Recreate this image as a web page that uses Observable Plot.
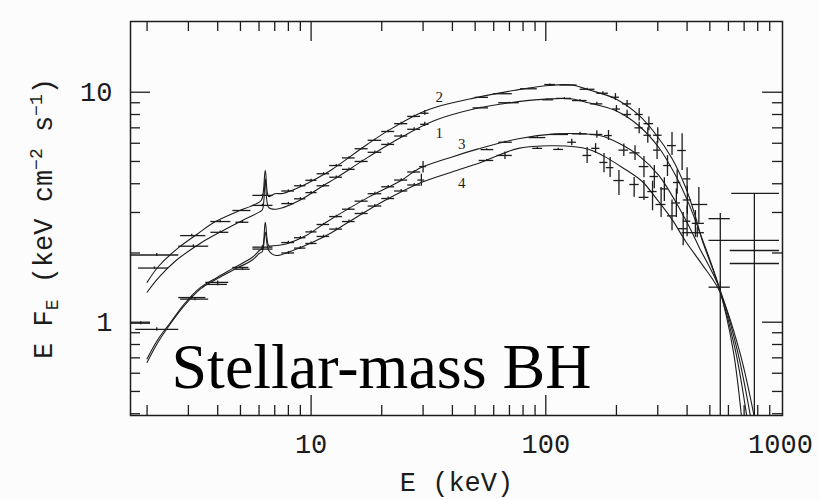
<!DOCTYPE html>
<html><head><meta charset="utf-8">
<script src="https://cdn.jsdelivr.net/npm/d3@7"></script>
<script src="https://cdn.jsdelivr.net/npm/@observablehq/plot@0.6"></script>
<style>body{margin:0;background:#fcfcfc}#chart{width:819px;height:500px}</style>
</head><body><div id="chart"></div>
<script>
// ---- model curves (E in keV, E*F_E) ----
const c1E = [2.0,2.25,2.65,3.34,4.2,5.27,6.01,6.2,6.38,6.6,7.1,7.6,8.91,11.6,12.6,17.5,24.2,33.6,49.9,76.4,103,129,152,198,249,303,357,407,450,547,629,689];
const c1V = [1.35,1.57,1.85,2.19,2.5,2.82,3.01,3.08,4.2,3.15,3.1,3.15,3.38,4.0,4.2,5.22,6.37,7.53,8.47,9.1,9.36,9.35,9.0,8.32,7.15,5.75,4.35,3.27,2.5,1.42,0.753,0.35];
const c2E = [2.0,2.25,2.74,3.28,3.86,4.78,5.82,6.15,6.38,6.6,7.0,7.57,8.91,11.6,12.6,17.5,21.3,28.6,35.9,49.9,74,103,129,152,198,249,293,345,394,435,464,547,643,730];
const c2V = [1.49,1.76,2.12,2.42,2.72,3.01,3.27,3.4,4.57,3.52,3.62,3.63,3.86,4.45,4.7,5.97,6.81,8.05,8.75,9.45,10.2,10.7,10.75,10.25,9.36,7.95,6.6,5.15,3.86,2.86,2.27,1.42,0.753,0.35];
const c3E = [2.0,2.21,2.52,2.88,3.39,3.99,4.62,5.64,6.01,6.2,6.38,6.6,6.85,7.82,9.52,11.6,17.5,24.2,28.6,39.6,51.5,76.4,110,143,173,205,249,303,357,407,450,547,655,759];
const c3V = [0.693,0.833,1.0,1.2,1.42,1.57,1.71,1.92,2.05,2.1,2.72,2.15,2.15,2.19,2.38,2.72,3.49,4.13,4.64,5.22,5.67,6.28,6.59,6.59,6.45,6.0,5.3,4.35,3.35,2.62,2.12,1.42,0.753,0.35];
const c4E = [2.0,2.21,2.52,2.88,3.39,3.99,4.62,5.64,6.01,6.2,6.38,6.6,7.08,8.36,10.2,12.2,14.8,20.6,28.6,39.6,53.2,76.4,110,152,175,211,257,293,345,394,464,547,668,789];
const c4V = [0.668,0.808,0.987,1.18,1.4,1.55,1.68,1.87,1.99,2.03,2.46,2.05,1.95,2.05,2.23,2.45,2.77,3.38,4.0,4.49,4.96,5.7,5.85,5.65,5.3,4.72,4.1,3.49,2.8,2.25,1.78,1.38,0.753,0.35];

// ---- data points: [E, E_lo, E_hi, EF_E, lo, hi] ----
const pts1 = [[2.15,1.84,2.47,1.72,1.70,1.74],[3.15,2.73,3.66,2.14,2.11,2.17],[4.1,3.74,4.46,2.46,2.43,2.49],[5.1,4.78,5.43,2.72,2.69,2.75],[6.2,5.65,6.88,3.22,3.18,3.26],[8.0,7.5,8.5,3.28,3.24,3.32],[9.0,8.5,9.5,3.44,3.40,3.48],[10.0,9.5,10.6,3.66,3.62,3.70],[11.3,10.6,12.0,3.92,3.87,3.97],[12.8,12.0,13.6,4.27,4.22,4.32],[14.5,13.6,15.4,4.62,4.56,4.68],[16.5,15.4,17.5,5.0,4.94,5.06],[18.7,17.5,20.0,5.48,5.41,5.55],[21.3,20.0,22.7,5.93,5.85,6.01],[24.2,22.7,25.8,6.45,6.36,6.54],[27.5,25.8,29.3,6.9,6.8,7.0],[30.5,29.3,31.8,7.25,7.1,7.4],[53,49,57,8.55,8.5,8.6],[70,63,77,9.0,8.95,9.05],[101,97,108,9.27,9.2,9.34],[120,111,129,9.4,9.33,9.47],[140,130,150,9.2,9.1,9.3],[165,155,175,8.9,8.75,9.05],[200,192,208,8.45,8.2,8.75],[222,212,232,8.0,7.7,8.35],[250,240,260,7.0,6.6,7.4],[272,262,282,6.5,6.0,7.0],[298,288,308,5.6,5.1,6.1],[330,318,342,4.8,4.3,5.3],[363,350,376,4.05,3.6,4.6],[401,385,418,3.4,2.95,3.9],[434,421,474,2.69,2.34,3.06]];
const pts2 = [[2.2,1.70,2.73,1.96,1.93,1.99],[3.1,2.78,3.56,2.38,2.35,2.41],[4.1,3.74,4.55,2.74,2.71,2.77],[5.1,4.64,5.54,3.06,3.03,3.09],[6.2,5.65,6.88,3.56,3.52,3.60],[8.0,7.5,8.5,3.72,3.68,3.76],[9.0,8.5,9.5,3.92,3.88,3.96],[10.0,9.5,10.6,4.14,4.10,4.18],[11.3,10.6,12.0,4.42,4.37,4.47],[12.8,12.0,13.6,4.8,4.75,4.85],[14.5,13.6,15.4,5.18,5.12,5.24],[16.5,15.4,17.5,5.68,5.62,5.74],[18.7,17.5,20.0,6.18,6.11,6.25],[21.3,20.0,22.7,6.75,6.67,6.83],[24.2,22.7,25.8,7.3,7.2,7.4],[27.5,25.8,29.3,7.85,7.75,7.95],[30.5,29.3,31.8,8.1,7.95,8.3],[53,50,57,9.5,9.45,9.55],[66,60,72,9.85,9.8,9.9],[85,78,92,10.35,10.3,10.4],[104,99,110,10.8,10.75,10.85],[125,115,136,10.75,10.7,10.8],[150,140,162,10.3,10.2,10.4],[175,165,185,9.9,9.75,10.05],[198,190,206,9.51,9.2,9.86],[222,212,232,8.9,8.6,9.2],[250,240,260,8.0,7.5,8.5],[275,262,288,7.3,6.8,7.8],[300,288,313,6.5,6.0,7.0],[345,330,360,5.86,5.31,6.68],[381,365,397,5.58,4.57,6.6],[400,385,415,4.2,3.7,4.7],[449,421,490,3.25,2.69,3.85]];
const pts3 = [[1.88,1.70,2.07,0.99,0.975,1.005],[3.1,2.73,3.56,1.28,1.26,1.30],[4.0,3.56,4.46,1.49,1.47,1.51],[5.0,4.64,5.43,1.73,1.71,1.75],[6.2,5.65,6.88,2.12,2.09,2.15],[8.0,7.5,8.5,2.22,2.19,2.25],[9.0,8.5,9.5,2.33,2.30,2.36],[10.0,9.5,10.6,2.47,2.44,2.50],[11.3,10.6,12.0,2.66,2.63,2.69],[12.8,12.0,13.6,2.88,2.84,2.92],[14.5,13.6,15.4,3.1,3.06,3.14],[16.5,15.4,17.5,3.36,3.32,3.40],[18.7,17.5,20.0,3.62,3.57,3.67],[21.3,20.0,22.7,3.88,3.83,3.93],[24.2,22.7,25.8,4.15,4.09,4.21],[27.5,25.8,29.3,4.5,4.44,4.56],[30.0,29.0,31.0,4.75,4.45,5.0],[56,53,60,5.63,5.58,5.68],[67,63,72,6.06,6.0,6.12],[92,85,100,6.35,6.3,6.4],[115,105,125,6.55,6.5,6.6],[140,130,150,6.6,6.5,6.7],[165,155,175,6.55,6.3,6.8],[185,178,192,6.48,6.17,6.82],[215,205,225,5.6,5.25,5.95],[240,228,252,5.45,5.05,5.85],[262,250,275,4.75,4.25,5.25],[290,278,302,4.3,3.8,4.8],[320,308,333,3.8,3.35,4.25],[360,345,375,3.3,2.85,3.8],[400,385,415,2.75,2.35,3.2],[442,381,474,2.45,2.33,2.58]];
const pts4 = [[2.2,1.79,2.73,0.93,0.915,0.945],[3.2,2.78,3.66,1.26,1.24,1.28],[4.0,3.6,4.4,1.46,1.44,1.48],[5.1,4.7,5.5,1.70,1.68,1.72],[6.2,5.65,6.88,2.08,2.05,2.11],[8.0,7.5,8.5,2.0,1.97,2.03],[9.0,8.5,9.5,2.1,2.07,2.13],[10.0,9.5,10.6,2.2,2.17,2.23],[11.3,10.6,12.0,2.36,2.33,2.39],[12.8,12.0,13.6,2.54,2.51,2.57],[14.5,13.6,15.4,2.74,2.70,2.78],[16.5,15.4,17.5,2.97,2.93,3.01],[18.7,17.5,20.0,3.2,3.15,3.25],[21.3,20.0,22.7,3.45,3.40,3.50],[24.2,22.7,25.8,3.72,3.66,3.78],[27.5,25.8,29.3,3.95,3.89,4.01],[29.5,28.5,30.5,4.15,3.9,4.4],[56,52,60,5.05,5.0,5.1],[67,62,72,5.31,5.1,5.5],[92,88,97,5.7,5.65,5.75],[113,108,119,5.64,5.6,5.7],[129,124,135,6.06,5.85,6.25],[150,144,157,5.31,4.90,5.75],[163,157,170,5.70,5.42,5.98],[177,170,184,4.95,4.47,5.42],[188,181,195,4.70,4.26,5.20],[205,195,216,4.13,3.56,4.57],[238,228,250,3.97,3.49,4.26],[262,250,275,3.49,3.38,4.13],[285,272,298,3.7,3.05,4.1],[310,295,325,3.25,2.85,3.85],[345,330,362,2.9,2.5,3.4],[385,368,402,2.55,2.15,3.0]];
const ptsHigh = [[554,496,611,2.82,0.3,2.97],[554,496,611,1.42,1.35,1.5],[774,620,990,3.63,0.3,3.63],[774,496,990,2.27,2.27,2.27],[774,611,990,2.05,2.05,2.05],[774,611,990,1.80,1.80,1.80]];

// ---- ticks & labels ----
const xMajor = [10, 100];
const xMinor = [2,3,4,5,6,7,8,9,20,30,40,50,60,70,80,90,200,300,400,500,600,700,800,900];
const yMajor = [1, 10];
const yMinor = [0.4,0.5,0.6,0.7,0.8,0.9,2,3,4,5,6,7,8,9];
const xTickLabels = [10, 100, 1000];
const yTickLabels = [1, 10];
const curveLabels = ["2","1","3","4"];
const curveLabelE = [35.2,35.2,43.8,43.8];
const curveLabelV = [9.48,6.61,5.93,4.01];
const xLabel = "E (keV)";
const yLabelParts = [["E F",""],["E","sub"],[" (keV cm",""],["\u22122","sup"],[" s",""],["\u22121","sup"],[")",""]];
const overlayText = "Stellar-mass BH";

const W = 819, H = 500, mL = 130, mR = 37, mT = 21, mB = 85;
const innerW = W - mL - mR, innerH = H - mT - mB;
const major = 20, minor = 10;
const ink = "#1c1c1c";
const mono = "Liberation Mono, DejaVu Sans Mono, monospace";

const curves = [[c1E,c1V],[c2E,c2V],[c3E,c3V],[c4E,c4V]].flatMap(([es, vs], k) => es.map((e, i) => ({E: e, V: vs[i], s: k + 1})));
const pts = [...pts1, ...pts2, ...pts3, ...pts4, ...ptsHigh];
const yLabelPlain = yLabelParts.map(p => p[0]).join("");

const tickStyle = {stroke: ink, strokeWidth: 1.3};
const chart = Plot.plot({
  width: W, height: H,
  marginLeft: mL, marginRight: mR, marginTop: mT, marginBottom: mB,
  style: {background: "#fcfcfc", color: ink},
  x: {type: "log", domain: [1.7, 1020]},
  y: {type: "log", domain: [0.393, 20.3]},
  marks: [
    // inward ticks on all four sides
    Plot.ruleX(xMajor, {...tickStyle, insetTop: innerH - major}),
    Plot.ruleX(xMinor, {...tickStyle, insetTop: innerH - minor}),
    Plot.ruleX(xMajor, {...tickStyle, insetBottom: innerH - major}),
    Plot.ruleX(xMinor, {...tickStyle, insetBottom: innerH - minor}),
    Plot.ruleY(yMajor, {...tickStyle, insetRight: innerW - major}),
    Plot.ruleY(yMinor, {...tickStyle, insetRight: innerW - minor}),
    Plot.ruleY(yMajor, {...tickStyle, insetLeft: innerW - major}),
    Plot.ruleY(yMinor, {...tickStyle, insetLeft: innerW - minor}),
    Plot.axisX({ticks: xTickLabels, tickSize: 0, tickPadding: 18, tickFormat: d => String(d), fontSize: 27, fontFamily: mono, label: null}),
    Plot.axisY({ticks: yTickLabels, tickSize: 0, tickPadding: 18, tickFormat: d => String(d), fontSize: 27, fontFamily: mono, label: null}),
    // model curves
    Plot.line(curves, {x: "E", y: "V", z: "s", curve: "catmull-rom", stroke: ink, strokeWidth: 1.1, clip: true}),
    // data error bars
    Plot.ruleY(pts, {y: d => d[3], x1: d => d[1], x2: d => d[2], stroke: ink, strokeWidth: 1.3, clip: true}),
    Plot.ruleX(pts, {x: d => d[0], y1: d => d[4], y2: d => d[5], stroke: ink, strokeWidth: 1.3, clip: true}),
    // curve numbers
    Plot.text(curveLabels, {x: (d, i) => curveLabelE[i], y: (d, i) => curveLabelV[i], text: d => d, fontSize: 15, fontFamily: "Liberation Serif, serif", fill: ink}),
    Plot.frame({stroke: ink, strokeWidth: 1.5}),
    // axis titles
    Plot.text([xLabel], {frameAnchor: "bottom", lineAnchor: "middle", textAnchor: "middle", dy: 67, fontSize: 27, fontFamily: mono, fill: ink}),
    Plot.text([yLabelPlain], {frameAnchor: "left", lineAnchor: "middle", textAnchor: "middle", dx: -87, rotate: -90, fontSize: 27, fontFamily: mono, fill: ink}),
    // overlay caption
    Plot.text([overlayText], {frameAnchor: "bottom-left", lineAnchor: "middle", textAnchor: "start", dx: 41, dy: -47.5, fontSize: 64, fontFamily: "Liberation Serif, Times New Roman, serif", fill: "#000"})
  ]
});

// rich text for the y-axis title (subscript / superscripts)
chart.querySelectorAll("text").forEach(t => {
  if (t.textContent === yLabelPlain) {
    t.textContent = "";
    let shift = 0;
    for (const [str, kind] of yLabelParts) {
      const ts = document.createElementNS("http://www.w3.org/2000/svg", "tspan");
      const target = kind === "sup" ? -10 : kind === "sub" ? 6 : 0;
      ts.setAttribute("dy", String(target - shift));
      shift = target;
      if (kind) ts.setAttribute("font-size", "18");
      ts.textContent = str;
      t.appendChild(ts);
    }
  }
});

document.getElementById("chart").appendChild(chart);
</script></body></html>
